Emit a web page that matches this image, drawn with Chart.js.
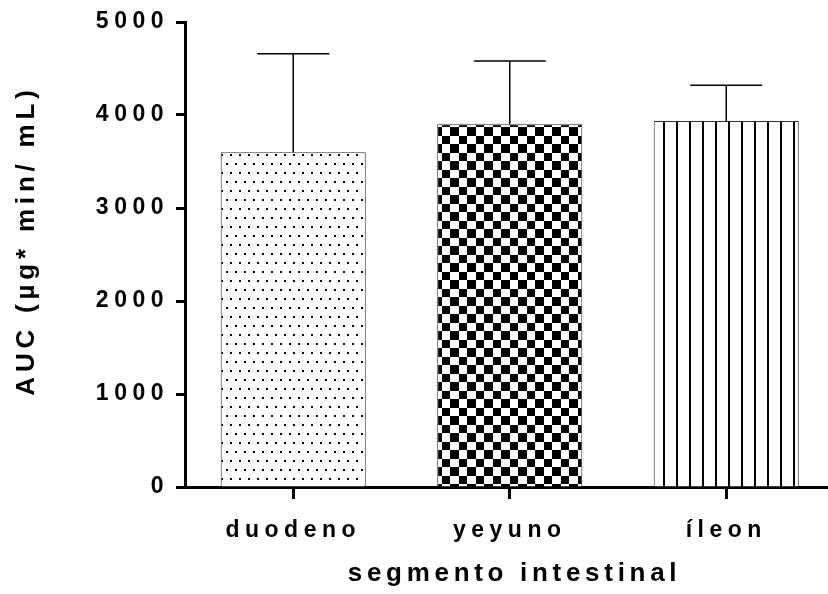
<!DOCTYPE html>
<html>
<head>
<meta charset="utf-8">
<script src="https://cdn.jsdelivr.net/npm/chart.js@4.4.1/dist/chart.umd.min.js"></script>
<style>
  html, body { margin: 0; padding: 0; background: #fff; }
  #wrap { width: 828px; height: 594px; position: relative; }
</style>
</head>
<body>
<div id="wrap"><canvas id="aucChart"></canvas></div>
<script>
const categories = ['duodeno', 'yeyuno', 'íleon'];
const meanValues = [3600, 3900, 3935];
const sdValues = [1058, 680, 385];
const yTicks = [0, 1000, 2000, 3000, 4000, 5000];

const FONT = "'Liberation Sans', Arial, sans-serif";

// fill patterns like the GraphPad bars
function makeTile(w, h, draw) {
    const c = document.createElement('canvas');
    c.width = w;
    c.height = h;
    const g = c.getContext('2d');
    g.fillStyle = '#fff';
    g.fillRect(0, 0, w, h);
    g.fillStyle = '#000';
    draw(g);
    return document.createElement('canvas').getContext('2d').createPattern(c, 'repeat');
}

const dots = makeTile(18, 18, g => {
    g.fillRect(1, 1, 2, 2);
    g.fillRect(10, 1, 2, 2);
    g.fillRect(5, 10, 2, 2);
    g.fillRect(14, 10, 2, 2);
});
const checks = makeTile(17, 17, g => {
    g.fillRect(0, 0, 8, 8);
    g.fillRect(8, 8, 9, 9);
});
const stripes = makeTile(13, 13, g => {
    g.fillRect(0, 0, 2, 13);
});

// spaced-out lettering, titles get their own spacing and a small nudge
const titleTweaks = {
    x: { spacing: '4.7px', dx: 8, dy: 0 },
    y: { spacing: '4.8px', dx: 0, dy: -14 }
};

const spacing = {
    id: 'spacing',
    beforeUpdate(chart) { chart.ctx.letterSpacing = '5.5px'; },
    beforeDraw(chart) {
        const ctx = chart.ctx;
        ctx.letterSpacing = '5.5px';
        Object.keys(titleTweaks).forEach(id => {
            const scale = chart.scales[id];
            if (!scale || scale._tweaked) return;
            const t = titleTweaks[id];
            const orig = scale.drawTitle;
            scale.drawTitle = function (...args) {
                ctx.save();
                ctx.letterSpacing = t.spacing;
                ctx.translate(t.dx, t.dy);
                orig.apply(this, args);
                ctx.restore();
            };
            scale._tweaked = true;
        });
    }
};

const errorBars = {
    id: 'errorBars',
    afterDatasetsDraw(chart) {
        const ctx = chart.ctx;
        const xs = chart.scales.x;
        const ys = chart.scales.y;
        ctx.save();
        ctx.strokeStyle = '#000';
        ctx.lineWidth = 1.5;
        meanValues.forEach((m, i) => {
            const x = xs.getPixelForValue(i);
            const yBar = ys.getPixelForValue(m);
            const yTop = ys.getPixelForValue(m + sdValues[i]);
            ctx.beginPath();
            ctx.moveTo(x, yBar);
            ctx.lineTo(x, yTop);
            ctx.moveTo(x - 36, yTop);
            ctx.lineTo(x + 36, yTop);
            ctx.stroke();
        });
        ctx.restore();
    }
};

new Chart(document.getElementById('aucChart'), {
    type: 'bar',
    data: {
        datasets: [{
            data: meanValues.map((v, i) => ({ x: i, y: v })),
            backgroundColor: [dots, checks, stripes],
            borderColor: '#333',
            borderWidth: 1,
            barPercentage: 0.67,
            categoryPercentage: 1
        }]
    },
    options: {
        responsive: true,
        maintainAspectRatio: false,
        animation: false,
        layout: { padding: { top: 22, right: 0, bottom: 0, left: 0 } },
        plugins: {
            legend: { display: false },
            tooltip: { enabled: false }
        },
        scales: {
            x: {
                type: 'linear',
                offset: false,
                min: -0.5,
                max: 2.47,
                afterFit: s => { s.height = 107; },
                afterBuildTicks: s => { s.ticks = categories.map((c, i) => ({ value: i })); },
                grid: {
                    offset: false,
                    drawOnChartArea: false,
                    drawTicks: true,
                    tickLength: 12,
                    tickWidth: 3,
                    tickColor: '#000'
                },
                border: { display: true, color: '#000', width: 3 },
                ticks: {
                    color: '#000',
                    padding: 18,
                    maxRotation: 0,
                    autoSkip: false,
                    font: { family: FONT, size: 23, weight: 'bold' },
                    callback: v => categories[v]
                },
                title: {
                    display: true,
                    text: 'segmento intestinal',
                    color: '#000',
                    padding: { top: 0, bottom: 5 },
                    font: { family: FONT, size: 26, weight: 'bold' }
                }
            },
            y: {
                min: 0,
                max: 5000,
                afterFit: s => { s.width = 185; },
                afterBuildTicks: s => { s.ticks = yTicks.map(v => ({ value: v })); },
                grid: {
                    drawOnChartArea: false,
                    drawTicks: true,
                    tickLength: 9,
                    tickWidth: 3,
                    tickColor: '#000'
                },
                border: { display: true, color: '#000', width: 3 },
                ticks: {
                    color: '#000',
                    padding: 7,
                    font: { family: FONT, size: 23, weight: 'bold' },
                    callback: v => String(v)
                },
                title: {
                    display: true,
                    text: 'AUC (µg* min/ mL)',
                    color: '#000',
                    padding: { top: 11, bottom: 0 },
                    font: { family: FONT, size: 26, weight: 'bold' }
                }
            }
        }
    },
    plugins: [spacing, errorBars]
});
</script>
</body>
</html>
